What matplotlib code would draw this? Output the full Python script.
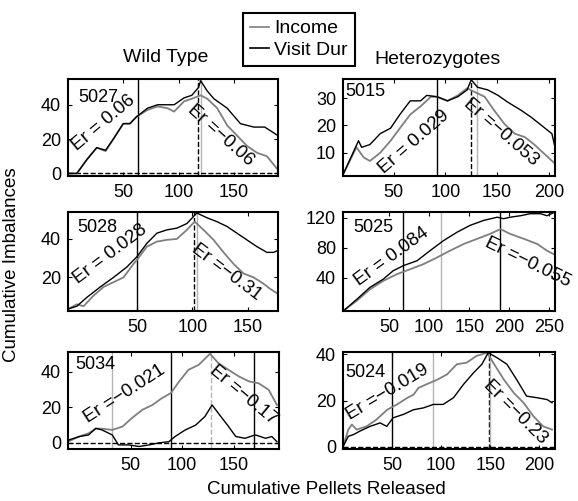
import matplotlib
matplotlib.use("Agg")
import matplotlib.pyplot as plt
from matplotlib.lines import Line2D

plt.rcParams['font.family'] = ['Liberation Sans', 'DejaVu Sans']
plt.rcParams['font.size'] = 13
plt.rcParams['axes.linewidth'] = 1.5
plt.rcParams['xtick.direction'] = 'in'
plt.rcParams['ytick.direction'] = 'in'
plt.rcParams['xtick.top'] = True
plt.rcParams['ytick.right'] = True
plt.rcParams['xtick.major.size'] = 3
plt.rcParams['ytick.major.size'] = 3
plt.rcParams['xtick.major.pad'] = 6
plt.rcParams['ytick.major.pad'] = 5

W, H = 578, 501
GRAY = '#7f7f7f'
LIGHT = '#b4b4b4'

# --- data ---
# 5027 (wild type)
m5027_inc_x = [0, 8, 17, 26, 30, 34, 41, 50, 56, 62, 72, 81, 90, 96, 105, 112, 120, 126, 135, 144, 153, 162, 171, 180, 190]
m5027_inc_y = [0, 0, 8, 15, 14, 13, 20, 29, 29, 33, 37, 39, 38, 36, 42, 43.5, 45.5, 43.5, 38, 28, 22, 16, 12, 10, 2]
m5027_vis_x = [0, 8, 17, 26, 34, 41, 50, 56, 62, 72, 81, 90, 96, 105, 112, 118, 120, 126, 132, 144, 156, 168, 178, 190]
m5027_vis_y = [0, 0, 8, 15, 13.5, 20, 29, 29, 33, 38, 40, 40, 40, 44, 45.5, 50, 54, 48, 43.5, 38, 29, 27, 27, 22]

# 5015 (heterozygote)
m5015_inc_x = [1, 14, 21, 27, 37, 47, 56, 66, 76, 86, 92, 102, 112, 121, 128, 138, 147, 157, 167, 177, 186, 196, 206]
m5015_inc_y = [2, 12, 8.3, 7, 10, 14.4, 19, 24, 27, 30.5, 30.5, 29, 31, 33.6, 32.3, 30.5, 25.6, 20.6, 17, 15.7, 13, 9.5, 6]
m5015_vis_x = [1, 16, 19, 27, 37, 47, 56, 66, 76, 82, 92, 102, 112, 121, 125, 131, 141, 151, 160, 173, 183, 193, 203, 206]
m5015_vis_y = [2, 14.4, 12, 13, 17, 19, 24, 29, 29, 31, 30.5, 29, 30.5, 33, 36.7, 34, 33, 31, 28.6, 25.6, 23, 20, 17, 12]

# 5028 (wild type)
m5028_inc_x = [-12, -4, 2, 11, 20, 29, 38, 47, 50, 59, 68, 77, 86, 95, 102, 110, 119, 128, 137, 146, 155, 164, 170, 177]
m5028_inc_y = [3.5, 6, 5, 10.5, 15, 17.5, 20, 27, 29, 36, 38.6, 39.5, 40, 44.7, 49, 44.7, 39.5, 33, 27, 22, 20, 16.7, 14, 11.4]
m5028_vis_x = [-12, -4, 5, 17, 29, 41, 50, 59, 68, 77, 86, 95, 104, 113, 122, 131, 140, 149, 158, 167, 173, 177]
m5028_vis_y = [3.5, 5, 9.6, 15, 20, 25.4, 30.7, 37.7, 43, 44.7, 45.6, 48, 53.5, 51, 49, 46.5, 43, 39.5, 36, 33, 33, 34]

# 5025 (heterozygote)
m5025_inc_x = [-5, 10, 26, 43, 60, 76, 93, 110, 126, 143, 160, 176, 189, 201, 218, 235, 247, 255]
m5025_inc_y = [-3, 9, 24, 35.6, 44.6, 51, 58, 67, 76, 85, 92, 98.6, 105, 98.6, 92, 85, 76, 71.6]
m5025_vis_x = [-5, 10, 26, 43, 55, 68, 85, 101, 118, 135, 151, 168, 185, 193, 201, 214, 226, 239, 247, 255]
m5025_vis_y = [-3, 11, 26.6, 38, 49, 56, 62.6, 76, 89.6, 101, 110, 116.7, 121, 119, 121, 123, 125.7, 125.7, 123, 127]

# 5034 (wild type)
m5034_inc_x = [-10, 0, 9, 16, 22, 32, 42, 51, 61, 71, 80, 89, 97, 106, 116, 127, 135, 145, 155, 165, 174, 184, 192]
m5034_inc_y = [1, 3.6, 5.4, 8, 8, 7.3, 9.2, 13.9, 18.5, 21.3, 25, 28, 34.5, 41, 43.8, 50, 44.8, 41, 37.3, 34.5, 33.5, 29.8, 21.3]
m5034_vis_x = [-10, 0, 9, 16, 22, 32, 38, 48, 58, 68, 77, 87, 93, 103, 113, 122, 129, 135, 145, 152, 161, 171, 181, 187, 192]
m5034_vis_y = [1.7, 3.6, 4.5, 8.2, 7.3, 4.5, -1.1, -1.1, -2, -1.1, 0, 0.7, 3.6, 7.3, 10, 14.8, 21.3, 16.7, 9.2, 3.6, 2.6, 4.5, 2.6, 3.6, 0.7]

# 5024 (heterozygote)
m5024_inc_x = [0, 5.4, 9, 14, 24, 34, 45, 55, 65, 72, 77, 85, 96, 106, 116, 126, 136, 147, 153, 164, 174, 184, 194, 204, 213]
m5024_inc_y = [0, 7.4, 9.6, 7.4, 8.8, 11.7, 16, 18.3, 21, 22.6, 25.5, 27, 29, 31.3, 35.7, 36.4, 39.3, 40.7, 36.4, 29, 23.3, 19, 13.2, 8.8, 7.4]
m5024_vis_x = [0, 5.4, 10.5, 17, 27.6, 37.8, 44.6, 51, 61.6, 71.8, 82, 92, 102, 112.6, 122.8, 133, 141.5, 148, 157, 167, 177, 187, 197.6, 208, 213]
m5024_vis_y = [0, 4.5, 5.2, 6.7, 8.8, 10.3, 8.8, 12.5, 14, 16, 16.8, 18.3, 18.3, 21.2, 27, 32, 35.7, 40.7, 38.5, 35.7, 29, 21.9, 21.2, 20.4, 19]

mouse_ids = ['5027', '5015', '5028', '5025', '5034', '5024']
er_left = ['Er = 0.06', 'Er = 0.029', 'Er = 0.028', 'Er = 0.084', 'Er =\u22120.021', 'Er =\u22120.019']
er_right = ['Er =\u22120.06', 'Er =\u22120.053', 'Er =\u22120.31', 'Er =\u22120.055', 'Er =\u22120.17', 'Er =\u22120.23']

# vertical markers: (x, colour, style)
marks = [
    [(63, 'k', '-'), (118, 'k', '--'), (120, LIGHT, '-')],
    [(92, 'k', '-'), (125, 'k', '--'), (131, LIGHT, '-')],
    [(50, 'k', '-'), (101, 'k', '--'), (104, LIGHT, '-')],
    [(67, 'k', '-'), (115, LIGHT, '-'), (189, 'k', '-')],
    [(32, LIGHT, '-'), (89, 'k', '-'), (128, LIGHT, '--'), (170, 'k', '-')],
    [(50, 'k', '-'), (92, LIGHT, '-'), (149, 'k', '--'), (150, LIGHT, '-')],
]

xlims = [(0, 190), (1, 206), (-12, 177), (-7.5, 257), (-11, 194), (0, 216)]
ylims = [(-1.5, 55), (1.5, 37), (2.5, 54), (-5, 128), (-3.4, 51), (-1, 41)]
xticks = [[50, 100, 150], [50, 100, 150, 200], [50, 100, 150],
          [50, 100, 150, 200, 250], [50, 100, 150], [50, 100, 150, 200]]
yticks = [[0, 20, 40], [10, 20, 30], [20, 40], [40, 80, 120], [0, 20, 40], [0, 20, 40]]
zero_line = [True, False, False, False, True, True]

series = [
    (m5027_inc_x, m5027_inc_y, m5027_vis_x, m5027_vis_y),
    (m5015_inc_x, m5015_inc_y, m5015_vis_x, m5015_vis_y),
    (m5028_inc_x, m5028_inc_y, m5028_vis_x, m5028_vis_y),
    (m5025_inc_x, m5025_inc_y, m5025_vis_x, m5025_vis_y),
    (m5034_inc_x, m5034_inc_y, m5034_vis_x, m5034_vis_y),
    (m5024_inc_x, m5024_inc_y, m5024_vis_x, m5024_vis_y),
]

# panel boxes in pixels (left, top, right, bottom)
boxes = [(68, 79, 278, 176), (343, 79, 555, 176),
         (68, 212, 278, 311), (343, 212, 555, 311),
         (68, 352, 279, 449), (343, 352, 555, 449)]
# label spots in axes fraction: id, left Er, right Er, with rotations
id_pos = [(0.05, 0.81), (0.01, 0.866), (0.043, 0.84), (0.047, 0.84), (0.033, 0.866), (0.01, 0.79)]
erl_pos = [(0.167, 0.546, 40), (0.335, 0.35, 41), (0.2, 0.576, 37),
           (0.231, 0.545, 36), (0.267, 0.567, 33), (0.212, 0.588, 31)]
err_pos = [(0.729, 0.42, -42), (0.745, 0.454, -41), (0.757, 0.394, -37),
           (0.87, 0.49, -26), (0.833, 0.557, -40), (0.811, 0.381, -45)]


def px_axes(fig, box):
    x0, y0, x1, y1 = box
    return fig.add_axes([x0 / W, 1 - y1 / H, (x1 - x0) / W, (y1 - y0) / H])


fig = plt.figure(figsize=(W / 100, H / 100), dpi=100)

for i in range(6):
    ax = px_axes(fig, boxes[i])
    ix, iy, vx, vy = series[i]
    for xm, col, ls in marks[i]:
        ax.axvline(xm, color=col, ls=ls, lw=1.0, zorder=1)
    if zero_line[i]:
        ax.axhline(0, color='k', ls='--', lw=1.0, zorder=1)
    ax.plot(ix, iy, color=GRAY, lw=1.3, zorder=2)
    ax.plot(vx, vy, color='k', lw=1.0, zorder=3)
    ax.set_xlim(*xlims[i])
    ax.set_ylim(*ylims[i])
    ax.set_xticks(xticks[i])
    ax.set_yticks(yticks[i])
    ax.tick_params(labelsize=13)

    ax.text(id_pos[i][0], id_pos[i][1], mouse_ids[i], transform=ax.transAxes,
            ha='left', va='center', fontsize=13)
    xl, yl, rl = erl_pos[i]
    ax.text(xl, yl, er_left[i], transform=ax.transAxes, ha='center', va='center',
            rotation=rl, rotation_mode='anchor', fontsize=13.5)
    xr, yr, rr = err_pos[i]
    ax.text(xr, yr, er_right[i], transform=ax.transAxes, ha='center', va='center',
            rotation=rr, rotation_mode='anchor', fontsize=13.5, clip_on=False)

fig.text(166 / W, 1 - 58 / H, 'Wild Type', ha='center', va='center', fontsize=14)
fig.text(437 / W, 1 - 60 / H, 'Heterozygotes', ha='center', va='center', fontsize=14)
fig.text(12 / W, 1 - 265 / H, 'Cumulative Imbalances', ha='center', va='center',
         rotation=90, fontsize=13.5)
fig.text(326 / W, 1 - 490 / H, 'Cumulative Pellets Released', ha='center', va='center',
         fontsize=13.5)

handles = [Line2D([], [], color=GRAY, lw=1.2), Line2D([], [], color='k', lw=1.2)]
leg = fig.legend(handles, ['Income', 'Visit Dur'], loc='upper left',
                 bbox_to_anchor=(243 / W, 1 - 13 / H), borderaxespad=0,
                 fancybox=False, edgecolor='k', framealpha=1, fontsize=14,
                 handlelength=1.0, handletextpad=0.25, borderpad=0.35,
                 labelspacing=0.2)
leg.get_frame().set_linewidth(1.5)

fig.savefig('out.png', dpi=100)
